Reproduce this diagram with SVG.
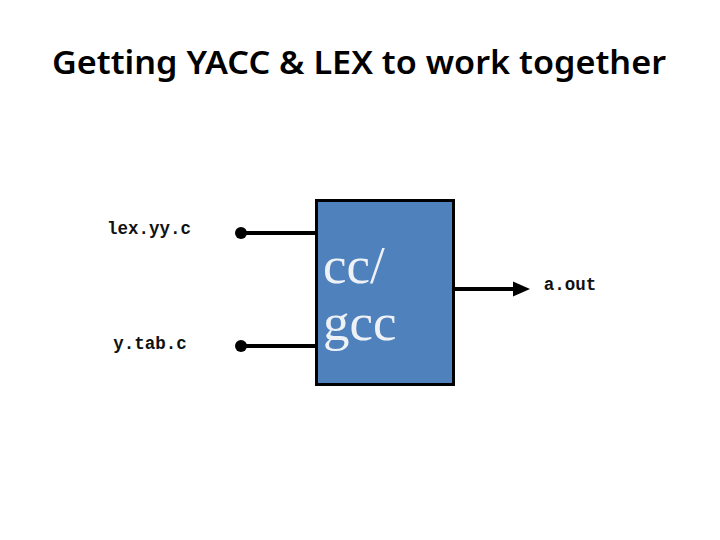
<svg xmlns="http://www.w3.org/2000/svg" width="720" height="540" viewBox="0 0 720 540">
<style>
.title{font-family:"Noto Sans","Open Sans",sans-serif;font-weight:600;font-size:32px;fill:#000}
.mono{font-family:"Liberation Mono","Courier New",monospace;font-weight:bold;font-size:17.5px;fill:#111}
.big{font-family:"Liberation Serif","Times New Roman",serif;font-size:53px;fill:#eef2f6}
.wire{stroke:#000;stroke-width:4;fill:none}
</style>
<rect width="720" height="540" fill="#fff"/>
<text class="title" x="359" y="74" text-anchor="middle" textLength="614" lengthAdjust="spacingAndGlyphs">Getting YACC &amp; LEX to work together</text>
<g id="connectors">
<line class="wire" x1="241" y1="233" x2="316" y2="233"/>
<circle cx="241" cy="233" r="6" fill="#000"/>
<line class="wire" x1="241" y1="346" x2="316" y2="346"/>
<circle cx="241" cy="346" r="6" fill="#000"/>
<path d="M455,289 L514,289" class="wire"/>
<path d="M513,281.5 L530,289 L513,296.5 Z" fill="#000"/>
</g>
<g id="lex">
<text class="mono" x="149" y="234" text-anchor="middle">lex.yy.c</text>
</g>
<g id="ytab">
<text class="mono" x="150" y="349" text-anchor="middle">y.tab.c</text>
</g>
<g id="gcc">
<rect x="316.5" y="200.5" width="137" height="184" fill="#4f81bd" stroke="#000" stroke-width="3"/>
<text class="big" x="323" y="283">cc/</text>
<text class="big" x="323" y="340">gcc</text>
</g>
<g id="aout">
<text class="mono" x="570" y="290" text-anchor="middle">a.out</text>
</g>
</svg>
